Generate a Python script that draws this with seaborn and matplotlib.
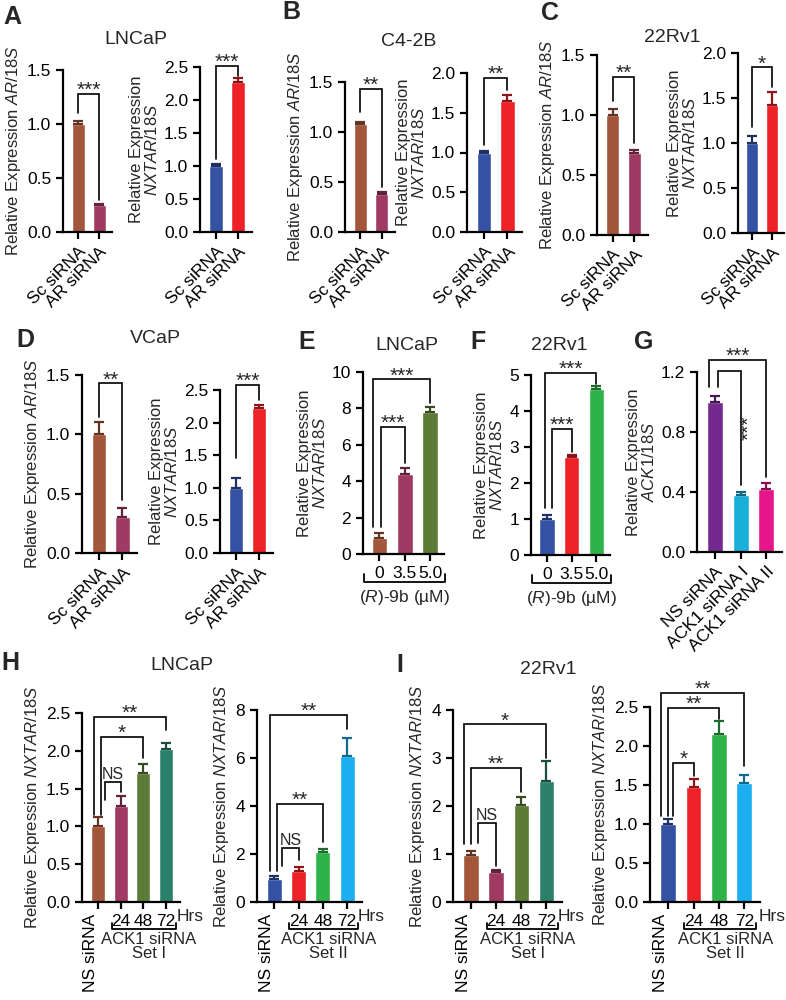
import numpy as np
import pandas as pd
import matplotlib
matplotlib.use("Agg")
import matplotlib.pyplot as plt
import matplotlib.colors as mcolors
from matplotlib.ticker import FormatStrFormatter
import seaborn as sns

W, H = 786, 1000

# ---------------- data ----------------
sirna_groups = ["Sc siRNA", "AR siRNA"]
dose_groups = ["0", "3.5", "5.0"]
ack1_groups = ["NS siRNA", "ACK1 siRNA I", "ACK1 siRNA II"]
time_groups = ["NS siRNA", "24", "48", "72"]

lncap_ar = [1.00, 0.25]
lncap_ar_err = [0.03, 0.01]
lncap_nxtar = [1.00, 2.27]
lncap_nxtar_err = [0.03, 0.06]
c42b_ar = [1.08, 0.38]
c42b_ar_err = [0.02, 0.02]
c42b_nxtar = [1.00, 1.65]
c42b_nxtar_err = [0.02, 0.07]
rv1_ar = [1.00, 0.68]
rv1_ar_err = [0.05, 0.03]
rv1_nxtar = [1.00, 1.42]
rv1_nxtar_err = [0.08, 0.15]
vcap_ar = [1.00, 0.30]
vcap_ar_err = [0.10, 0.08]
vcap_nxtar = [1.00, 2.22]
vcap_nxtar_err = [0.15, 0.05]
lncap_dose = [0.90, 4.40, 7.80]
lncap_dose_err = [0.25, 0.35, 0.30]
rv1_dose = [1.00, 2.72, 4.62]
rv1_dose_err = [0.10, 0.07, 0.07]
ack1_kd = [1.00, 0.38, 0.42]
ack1_kd_err = [0.04, 0.02, 0.04]
lncap_set1 = [1.00, 1.27, 1.70, 2.03]
lncap_set1_err = [0.12, 0.13, 0.13, 0.07]
lncap_set2 = [0.95, 1.30, 2.10, 6.10]
lncap_set2_err = [0.15, 0.15, 0.12, 0.75]
rv1_set1 = [0.97, 0.62, 2.03, 2.53]
rv1_set1_err = [0.10, 0.04, 0.15, 0.40]
rv1_set2 = [1.00, 1.48, 2.15, 1.53]
rv1_set2_err = [0.07, 0.10, 0.17, 0.10]

# significance brackets: (left x, right x, left leg bottom, right leg bottom, top, label)
sig_a1 = [(0, 1, 1.10, 0.30, 1.28, "***")]
sig_a2 = [(0, 1, 1.10, 2.37, 2.52, "***")]
sig_b1 = [(0, 1, 1.20, 0.45, 1.43, "**")]
sig_b2 = [(0, 1, 1.10, 1.78, 1.94, "**")]
sig_c1 = [(0, 1, 1.12, 0.77, 1.32, "**")]
sig_c2 = [(0, 1, 1.18, 1.62, 1.84, "*")]
sig_d1 = [(0, 1, 1.15, 0.45, 1.43, "**")]
sig_d2 = [(0, 1, 1.46, 2.35, 2.58, "***")]
sig_e = [(-0.25, 2, 1.5, 8.3, 9.6, "***"), (0.05, 1, 1.5, 5.0, 7.0, "***")]
sig_f = [(-0.1, 2, 1.3, 4.75, 5.05, "***"), (0.2, 1, 1.3, 2.85, 3.5, "***")]
sig_g = [(-0.25, 2, 1.10, 0.50, 1.28, "***"), (0.1, 1, 1.10, 0.45, 1.21, "***|")]
sig_h1 = [(-0.2, 3, 1.15, 2.27, 2.45, "**"), (0.1, 2, 1.15, 1.90, 2.18, "*"),
          (0.3, 1, 1.35, 1.45, 1.59, "NS")]
sig_h2 = [(-0.2, 3, 1.3, 7.2, 7.8, "**"), (0.1, 2, 1.3, 2.5, 4.1, "**"),
          (0.33, 1, 1.5, 1.75, 2.25, "NS")]
sig_i1 = [(-0.3, 3, 1.2, 3.0, 3.7, "*"), (0.0, 2, 1.2, 2.3, 2.8, "**"),
          (0.28, 1, 1.23, 0.75, 1.65, "NS")]
sig_i2 = [(-0.28, 3, 1.1, 1.75, 2.68, "**"), (0.0, 2, 1.1, 2.35, 2.49, "**"),
          (0.2, 1, 1.1, 1.62, 1.78, "*")]

BROWN, MAROON = "#A3563A", "#A03A62"
BLUE, RED = "#3451A3", "#EC2227"
OLIVE, GREEN = "#5B7B37", "#2FB24A"
PURPLE, CYAN, PINK = "#74298F", "#1AAFD8", "#E4168A"
TEAL, SKY = "#2B8069", "#1BAFEF"

sns.set_theme(style="ticks")
plt.rcParams["font.family"] = ["Liberation Sans", "DejaVu Sans"]
plt.rcParams["mathtext.fontset"] = "custom"
plt.rcParams["mathtext.rm"] = "Liberation Sans"
plt.rcParams["mathtext.it"] = "Liberation Sans:italic"
plt.rcParams["axes.linewidth"] = 1.6
plt.rcParams["axes.edgecolor"] = "black"
for k in ("xtick", "ytick"):
    plt.rcParams[f"{k}.major.width"] = 1.6
    plt.rcParams[f"{k}.major.size"] = 5
    plt.rcParams[f"{k}.labelsize"] = 12.5
    plt.rcParams[f"{k}.color"] = "black"
plt.rcParams["axes.labelsize"] = 12

fig = plt.figure(figsize=(W / 100, H / 100), dpi=100)

AR_LAB = r"Relative Expression $\mathit{AR/18S}$"
NX_LAB = "Relative Expression\n" + r"$\mathit{NXTAR/18S}$"
NX_LAB1 = r"Relative Expression $\mathit{NXTAR/18S}$"
ACK_LAB = "Relative Expression\n" + r"$\mathit{ACK1/18S}$"


def darken(c, f=0.6):
    r, g, b = mcolors.to_rgb(c)
    return (r * f, g * f, b * f)


def bar_panel(box, groups, values, errs, colors, ymax, step, fmt, ylabel, lo=0.72, hi=0.62):
    xs, xe, yz, yt = box
    ax = fig.add_axes([xs / W, 1 - yz / H, (xe - xs) / W, (yz - yt) / H])
    df = pd.DataFrame({"group": groups, "value": values})
    sns.barplot(data=df, x="group", y="value", hue="group", palette=colors,
                width=0.62, saturation=1, errorbar=None, legend=False, ax=ax)
    for i, (v, e, c) in enumerate(zip(values, errs, colors)):
        ax.errorbar(i, v, yerr=[[0], [e]], fmt="none", ecolor=darken(c),
                    elinewidth=1.6, capsize=3.5, capthick=1.6)
    n = len(groups)
    ax.set_xlim(-lo, n - 1 + hi)
    ax.set_ylim(0, ymax)
    ax.set_yticks(np.arange(0, ymax + step / 2, step))
    ax.yaxis.set_major_formatter(FormatStrFormatter(fmt))
    ax.set_xlabel("")
    ax.set_ylabel(ylabel, labelpad=3, linespacing=1.0)
    sns.despine(ax=ax)
    return ax


def add_sig(ax, specs):
    for xl, xr, yl, yr, top, lab in specs:
        ax.plot([xl, xl, xr, xr], [yl, top, top, yr], color="black", lw=1.2,
                clip_on=False, solid_joinstyle="miter")
        if lab.endswith("|"):
            ax.text(xr + 0.32, (yr + top) / 2, lab[:-1], rotation=90, ha="center",
                    va="center", fontsize=15)
        elif lab == "NS":
            ax.annotate(lab, ((xl + xr) / 2, top), xytext=(0, 2), textcoords="offset points",
                        ha="center", va="baseline", fontsize=11.5, annotation_clip=False)
        else:
            ax.annotate(lab, ((xl + xr) / 2, top), xytext=(0, -1.5), textcoords="offset points",
                        ha="center", va="baseline", fontsize=15, annotation_clip=False)


def px_below(ax, px):
    return -px / ax.bbox.height


def rot_labels(ax, groups):
    ax.set_xticks(range(len(groups)))
    ax.set_xticklabels(groups, rotation=45, ha="right", rotation_mode="anchor")


def dose_axis(ax):
    tr = ax.get_xaxis_transform()
    yb, yt = px_below(ax, 28), px_below(ax, 20)
    ax.plot([-0.6, -0.6, 2.6, 2.6], [yt, yb, yb, yt], transform=tr, color="black",
            lw=1.3, clip_on=False)
    ax.text(1.0, px_below(ax, 34), r"$\mathit{(R)}$-9b (µM)", transform=tr,
            ha="center", va="top", fontsize=12.5)


def time_axis(ax, set_name, hrs_x):
    labels = ax.get_xticklabels()
    labels[0].set_rotation(90)
    labels[0].set_ha("right")
    tr = ax.get_xaxis_transform()
    ax.text(hrs_x, px_below(ax, 7), "Hrs", transform=tr, ha="left", va="top", fontsize=12.5)
    yb, yt = px_below(ax, 27), px_below(ax, 21)
    ax.plot([0.62, 0.62, 3.45, 3.45], [yt, yb, yb, yt], transform=tr, color="black",
            lw=1.3, clip_on=False)
    ax.text(2.25, px_below(ax, 30), "ACK1 siRNA\n" + set_name, transform=tr,
            ha="center", va="top", fontsize=12, linespacing=0.95)


# ---------------- row 1 ----------------
ax = bar_panel((63, 112, 232, 70), sirna_groups, lncap_ar, lncap_ar_err, [BROWN, MAROON],
               1.5, 0.5, "%.1f", AR_LAB)
rot_labels(ax, sirna_groups); add_sig(ax, sig_a1)
ax = bar_panel((200, 252, 232, 67), sirna_groups, lncap_nxtar, lncap_nxtar_err, [BLUE, RED],
               2.5, 0.5, "%.1f", NX_LAB)
rot_labels(ax, sirna_groups); add_sig(ax, sig_a2)

ax = bar_panel((345, 395, 232, 82), sirna_groups, c42b_ar, c42b_ar_err, [BROWN, MAROON],
               1.5, 0.5, "%.1f", AR_LAB)
rot_labels(ax, sirna_groups); add_sig(ax, sig_b1)
ax = bar_panel((467, 522, 232, 73), sirna_groups, c42b_nxtar, c42b_nxtar_err, [BLUE, RED],
               2.0, 0.5, "%.1f", NX_LAB)
rot_labels(ax, sirna_groups); add_sig(ax, sig_b2)

ax = bar_panel((597, 648, 235, 55), sirna_groups, rv1_ar, rv1_ar_err, [BROWN, MAROON],
               1.5, 0.5, "%.1f", AR_LAB)
rot_labels(ax, sirna_groups); add_sig(ax, sig_c1)
ax = bar_panel((738, 784, 233, 53), sirna_groups, rv1_nxtar, rv1_nxtar_err, [BLUE, RED],
               2.0, 0.5, "%.1f", NX_LAB)
rot_labels(ax, sirna_groups); add_sig(ax, sig_c2)

# ---------------- row 2 ----------------
ax = bar_panel((82, 137, 553, 375), sirna_groups, vcap_ar, vcap_ar_err, [BROWN, MAROON],
               1.5, 0.5, "%.1f", AR_LAB)
rot_labels(ax, sirna_groups); add_sig(ax, sig_d1)
ax = bar_panel((220, 273, 553, 390), sirna_groups, vcap_nxtar, vcap_nxtar_err, [BLUE, RED],
               2.5, 0.5, "%.1f", NX_LAB)
rot_labels(ax, sirna_groups); add_sig(ax, sig_d2)

ax = bar_panel((363, 444, 554, 372), dose_groups, lncap_dose, lncap_dose_err,
               [BROWN, MAROON, OLIVE], 10, 2, "%d", NX_LAB, lo=0.65, hi=0.55)
add_sig(ax, sig_e); dose_axis(ax)
ax = bar_panel((531, 610, 555, 375), dose_groups, rv1_dose, rv1_dose_err,
               [BLUE, RED, GREEN], 5, 1, "%d", NX_LAB, lo=0.65, hi=0.55)
add_sig(ax, sig_f); dose_axis(ax)

ax = bar_panel((697, 782, 552, 372), ack1_groups, ack1_kd, ack1_kd_err,
               [PURPLE, CYAN, PINK], 1.2, 0.4, "%.1f", ACK_LAB)
rot_labels(ax, ack1_groups); add_sig(ax, sig_g)

# ---------------- row 3 ----------------
ax = bar_panel((82, 180, 902, 713), time_groups, lncap_set1, lncap_set1_err,
               [BROWN, MAROON, OLIVE, TEAL], 2.5, 0.5, "%.1f", NX_LAB1)
add_sig(ax, sig_h1); time_axis(ax, "Set I", 3.45)
ax = bar_panel((257, 362, 902, 710), time_groups, lncap_set2, lncap_set2_err,
               [BLUE, RED, GREEN, SKY], 8, 2, "%d", NX_LAB1)
add_sig(ax, sig_h2); time_axis(ax, "Set II", 3.45)
ax = bar_panel((453, 562, 902, 710), time_groups, rv1_set1, rv1_set1_err,
               [BROWN, MAROON, OLIVE, TEAL], 4, 1, "%d", NX_LAB1)
add_sig(ax, sig_i1); time_axis(ax, "Set I", 3.45)
ax = bar_panel((650, 760, 902, 707), time_groups, rv1_set2, rv1_set2_err,
               [BLUE, RED, GREEN, SKY], 2.5, 0.5, "%.1f", NX_LAB1)
add_sig(ax, sig_i2); time_axis(ax, "Set II", 3.55)

# ---------------- titles and panel letters ----------------
titles = [("LNCaP", 136, 40), ("C4-2B", 409, 42), ("22Rv1", 672, 37),
          ("VCaP", 155, 338), ("LNCaP", 407, 345), ("22Rv1", 559, 345),
          ("LNCaP", 182, 665), ("22Rv1", 548, 670)]
for t, x, y in titles:
    fig.text(x / W, 1 - y / H, t, ha="center", va="center", fontsize=14)
letters = [("A", 12, 17), ("B", 291, 12), ("C", 550, 13), ("D", 25, 340),
           ("E", 307, 342), ("F", 478, 342), ("G", 644, 342), ("H", 10, 663),
           ("I", 400, 665)]
for t, x, y in letters:
    fig.text(x / W, 1 - y / H, t, ha="center", va="center", fontsize=18,
             fontweight="bold")

fig.savefig("out.png", dpi=100)
